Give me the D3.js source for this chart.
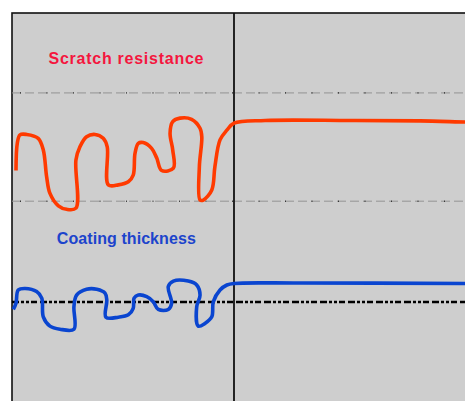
<!DOCTYPE html>
<html><head><meta charset="utf-8">
<script src="https://cdn.jsdelivr.net/npm/d3@7"></script>
<style>body{margin:0;background:#fff}svg{display:block}</style>
</head><body>
<script>
// Data (x: time units, vertical boundary at 100; y: value units)
const scratchX = [1.8,2.4,3.6,6.6,11.8,14.1,15.6,17.1,20.9,24.6,28.8,28.8,30.6,33.6,37.4,41.1,42.9,43.4,47.9,52.4,54.6,55.4,56.9,59.1,62.9,65.2,67.4,72.7,72.4,71.2,72.4,75.7,80.9,84.7,85.5,84.4,84.7,86.2,90.0,91.4,93.7,96.8,100,114,152.3,183.8,204,206.3];
const scratchY = [59.4,66.5,68.6,68.7,67.7,64.7,57.8,53.5,50.3,49.4,49.7,62.1,65.5,68.1,68.7,67.7,65.5,55.7,55.7,56.5,58.2,63.8,66.4,66.6,65.1,62.6,59.4,60.0,64.7,69.0,72.0,72.9,72.6,70.3,68.1,60.4,51.8,51.8,54.4,60.4,67.3,69.8,71.6,72.3,72.3,72.2,71.9,71.9];
const coatingX = [0.6,1.8,2.8,5.9,11.1,13.4,14.1,17.1,21.6,27.9,27.9,29.1,33.6,38.2,41.9,42.7,42.3,47.9,52.4,54.6,55.0,56.9,60.7,63.6,65.9,70.4,71.9,70.4,72.7,79.4,83.2,84.7,83.2,83.9,86.9,90.0,90.7,93.7,96.8,100,129.7,204,206.3];
const coatingY = [23.6,25.2,28.6,29.0,28.2,26.5,21.7,19.3,18.5,18.5,24.3,27.3,28.8,28.8,27.8,26.0,21.6,21.6,22.2,23.9,26.5,27.3,26.9,25.6,23.6,23.6,25.2,29.5,30.9,30.9,29.9,27.3,24.3,19.3,20.0,21.7,25.6,28.6,29.9,30.3,30.4,30.3,30.3];
const upperGuides = [79.4, 51.5];
const targetLevel = 25.5;
const splitX = 100;
const labels = ["Scratch resistance", "Coating thickness"];

const W = 465, H = 401;
const svg = d3.select("body").append("svg").attr("width", W).attr("height", H);
const x = d3.scaleLinear().domain([0, 100]).range([12, 234]);
const y = d3.scaleLinear().domain([0, 100]).range([401, 13]);

// plot background
svg.append("rect").attr("x", x(0)).attr("y", y(100)).attr("width", 470).attr("height", 410)
  .attr("fill", "#cecece").attr("stroke", "#111").attr("stroke-width", 1.6);

// gray dash-dot guides
upperGuides.forEach(v => {
  svg.append("line").attr("x1", x(0)).attr("x2", W).attr("y1", y(v)).attr("y2", y(v))
    .attr("stroke", "#939393").attr("stroke-width", 1).attr("stroke-dasharray", "9,4");
  svg.append("line").attr("x1", x(0)+8).attr("x2", W).attr("y1", y(v)).attr("y2", y(v))
    .attr("stroke", "#000").attr("stroke-width", 1).attr("stroke-dasharray", "1,25.5");
});

// black dash-dot target line
svg.append("line").attr("x1", x(0)).attr("x2", W).attr("y1", y(targetLevel)).attr("y2", y(targetLevel))
  .attr("stroke", "#000").attr("stroke-width", 2.6).attr("stroke-dasharray", "7,2,3,2,3,2,6,3");

// vertical split line
svg.append("line").attr("x1", x(splitX)).attr("x2", x(splitX)).attr("y1", y(100)).attr("y2", H)
  .attr("stroke", "#111").attr("stroke-width", 1.8);

const line = d3.line().x(d => x(d[0])).y(d => y(d[1])).curve(d3.curveCatmullRom.alpha(0.5));
svg.append("path").datum(d3.zip(scratchX, scratchY)).attr("d", line)
  .attr("fill", "none").attr("stroke", "#ff3a00").attr("stroke-width", 3.6).attr("stroke-linejoin", "round");
svg.append("path").datum(d3.zip(coatingX, coatingY)).attr("d", line)
  .attr("fill", "none").attr("stroke", "#0a45d0").attr("stroke-width", 3.6).attr("stroke-linejoin", "round");

svg.append("text").attr("x", 126).attr("y", 63.5).attr("text-anchor", "middle")
  .attr("font-family", "Liberation Sans, Arial, sans-serif").attr("font-weight", "bold").attr("font-size", 16)
  .attr("textLength", 155).attr("lengthAdjust", "spacing")
  .attr("fill", "#f4163e").text(labels[0]);
svg.append("text").attr("x", 126.3).attr("y", 244).attr("text-anchor", "middle")
  .attr("font-family", "Liberation Sans, Arial, sans-serif").attr("font-weight", "bold").attr("font-size", 16)
  .attr("textLength", 139).attr("lengthAdjust", "spacing")
  .attr("fill", "#1c44cc").text(labels[1]);
</script>
</body></html>
